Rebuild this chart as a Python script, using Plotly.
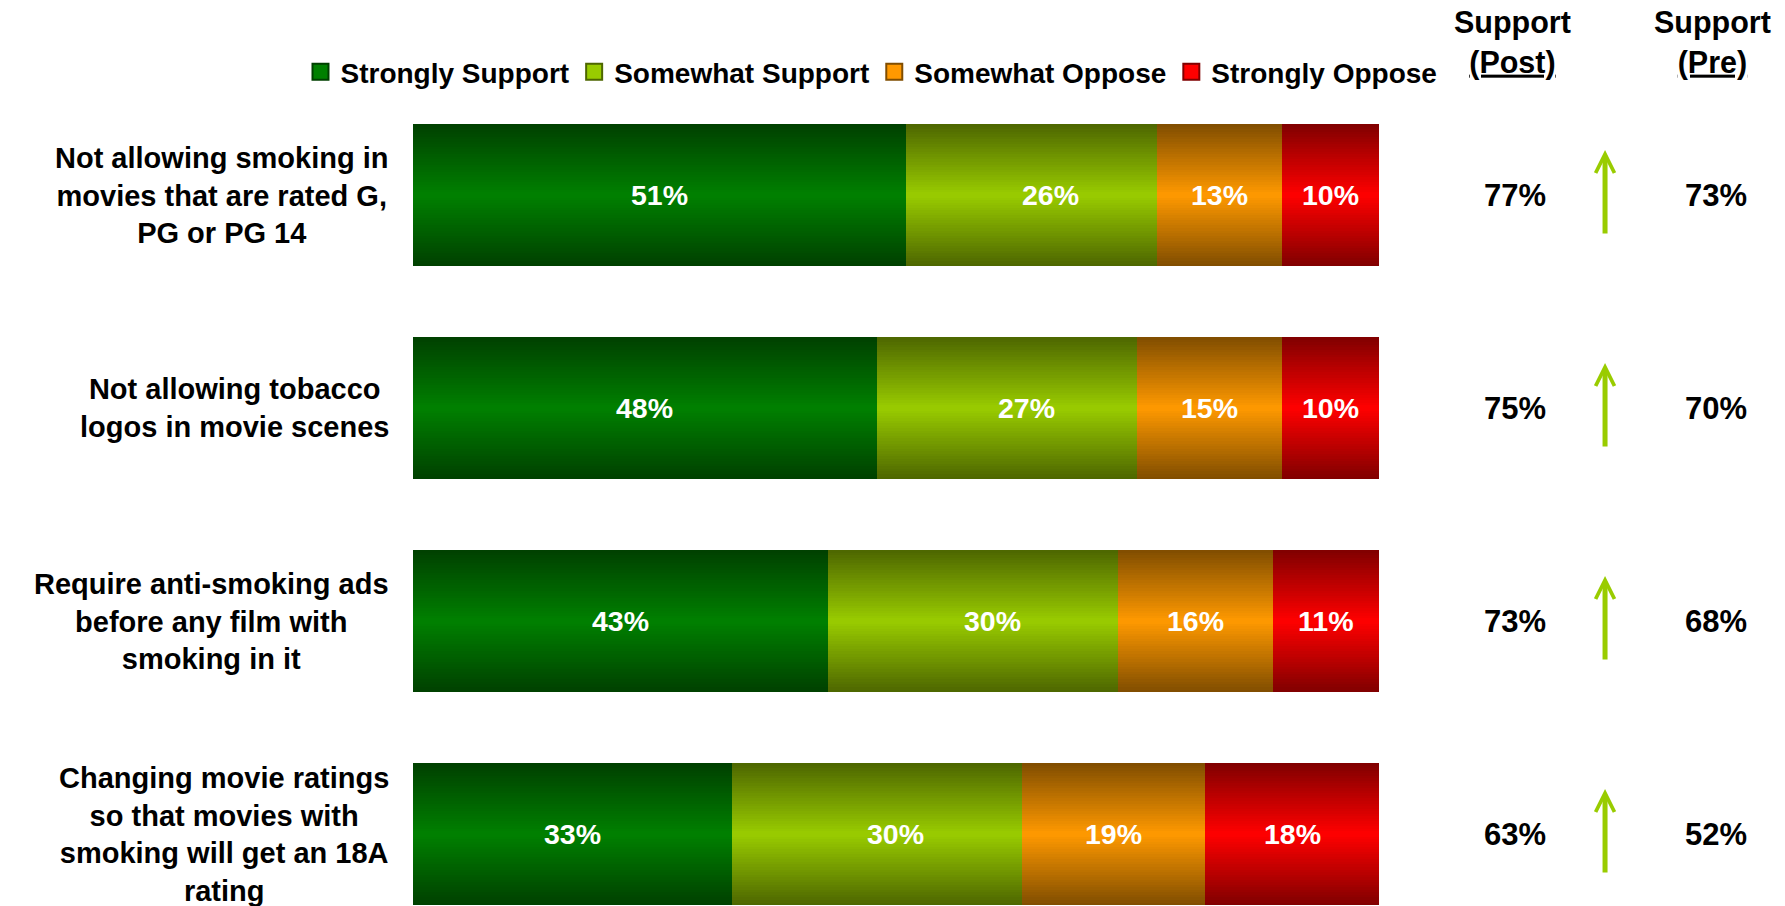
import plotly.graph_objects as go

# Survey statements (one per bar) and the four response categories
statements = [
    "Not allowing smoking in<br>movies that are rated G,<br>PG or PG 14",
    "Not allowing tobacco<br>logos in movie scenes",
    "Require anti-smoking ads<br>before any film with<br>smoking in it",
    "Changing movie ratings<br>so that movies with<br>smoking will get an 18A<br>rating",
]
responses = ["Strongly Support", "Somewhat Support", "Somewhat Oppose", "Strongly Oppose"]

# Share of respondents (%) per statement
strongly_support = [51, 48, 43, 33]
somewhat_support = [26, 27, 30, 30]
somewhat_oppose = [13, 15, 16, 19]
strongly_oppose = [10, 10, 11, 18]

# Total support after and before the campaign (%)
support_post = [77, 75, 73, 63]
support_pre = [73, 70, 68, 52]

headers = ["Support<br><u>(Post)</u>", "Support<br><u>(Pre)</u>"]

# ---- styling -------------------------------------------------------------
FONT = "Liberation Sans, Arial, sans-serif"
BRIGHT = ["#008000", "#99CC00", "#FF9900", "#FF0000"]
DARK = ["#004000", "#4D6600", "#804D00", "#800000"]
ARROW_COLOR = "#99CC00"
LABEL_XSHIFT = [0, 19, 0, 0]   # value labels of the second series sit a bit right
BAR_WIDTH = 0.667
LAYERS = 28                     # bands used to build the vertical shading

W, H = 1785, 906
M_LEFT, M_TOP = 413, 88
PLOT_H = H - M_TOP

X_MAX = 142.03                  # room to the right of the 100% bar for the side columns
X_POST, X_ARROW, X_PRE = 114.1, 123.4, 134.9


def mix(c1, c2, t):
    """Blend two hex colours, t=0 -> c1, t=1 -> c2."""
    a = [int(c1[i:i + 2], 16) for i in (1, 3, 5)]
    b = [int(c2[i:i + 2], 16) for i in (1, 3, 5)]
    return "rgb({},{},{})".format(*[round(x + (y - x) * t) for x, y in zip(a, b)])


def paper_y(px):
    """Pixel row from the top of the figure -> paper y coordinate."""
    return 1 + (M_TOP - px) / PLOT_H


rows = list(range(len(statements)))
series = [strongly_support, somewhat_support, somewhat_oppose, strongly_oppose]

fig = go.Figure()

# Stacked bars: each segment is drawn as nested bands, darkest (full height)
# first and brightest (thinnest) last, giving a dark-edge / bright-centre shade.
bases = [0] * len(rows)
label_info = []
for s, vals in enumerate(series):
    for j in range(LAYERS):
        frac = 1 - j / LAYERS
        dist = 1 - (j + 0.5) / LAYERS
        fig.add_trace(go.Bar(
            y=rows, x=vals, base=bases, orientation="h",
            width=BAR_WIDTH * frac,
            marker=dict(color=mix(BRIGHT[s], DARK[s], dist), line=dict(width=0)),
            showlegend=False, hoverinfo="skip",
        ))
    label_info.append((list(bases), vals))
    bases = [b + v for b, v in zip(bases, vals)]

# Legend entries
for s, name in enumerate(responses):
    fig.add_trace(go.Scatter(
        x=[None], y=[None], mode="markers", name=name,
        marker=dict(symbol="square", size=16, color=BRIGHT[s],
                    line=dict(color=DARK[s], width=2)),
    ))

annotations = []

# Value labels inside segments
for s, (starts, vals) in enumerate(label_info):
    for r, (b, v) in zip(rows, zip(starts, vals)):
        annotations.append(dict(
            x=b + v / 2, y=r, xref="x", yref="y", text=f"{v}%",
            showarrow=False, xshift=LABEL_XSHIFT[s],
            font=dict(family=FONT, size=28.5, color="white", weight="bold"),
        ))

# Statement labels on the left
for r, txt in zip(rows, statements):
    annotations.append(dict(
        x=0, y=r, xref="paper", yref="y", text=txt, showarrow=False,
        xanchor="right", yanchor="middle", align="center", xshift=-22,
        font=dict(family=FONT, size=29, color="black", weight="bold"),
    ))

# Side columns: support post / pre and change arrows
for r, post, pre in zip(rows, support_post, support_pre):
    for xv, val in ((X_POST, post), (X_PRE, pre)):
        annotations.append(dict(
            x=xv, y=r, xref="x", yref="y", text=f"{val}%", showarrow=False,
            font=dict(family=FONT, size=31, color="black", weight="bold"),
        ))
    annotations.append(dict(
        x=X_ARROW, y=r - 0.211, ax=X_ARROW, ay=r + 0.188,
        xref="x", yref="y", axref="x", ayref="y", text="",
        showarrow=True, arrowhead=5, arrowsize=0.74, arrowwidth=5,
        arrowcolor=ARROW_COLOR,
    ))

# Column headers
for xv, txt in zip((X_POST - 0.3, X_PRE - 0.4), headers):
    annotations.append(dict(
        x=xv, y=paper_y(43), xref="x", yref="paper", text=txt,
        showarrow=False, yanchor="middle", align="center",
        font=dict(family=FONT, size=30.5, color="black", weight="bold"),
    ))

# Category axis: row 0 centred 107 px below the plot top, 213 px per row
row0_px, row_px = 107, 213
y_top = -row0_px / row_px
y_bottom = (PLOT_H - row0_px) / row_px

fig.update_layout(
    width=W, height=H,
    margin=dict(l=M_LEFT, r=0, t=M_TOP, b=0),
    paper_bgcolor="white", plot_bgcolor="white",
    barmode="overlay", bargap=0,
    xaxis=dict(range=[0, X_MAX], visible=False, fixedrange=True),
    yaxis=dict(range=[y_bottom, y_top], visible=False, fixedrange=True),
    legend=dict(
        orientation="h", x=-0.082, xanchor="left", y=paper_y(72), yanchor="middle",
        font=dict(family=FONT, size=28, color="black", weight="bold"),
        bgcolor="rgba(0,0,0,0)", itemsizing="trace", traceorder="normal",
        itemclick=False, itemdoubleclick=False,
    ),
    annotations=annotations,
    hovermode=False,
)

fig.write_html("out.html")
